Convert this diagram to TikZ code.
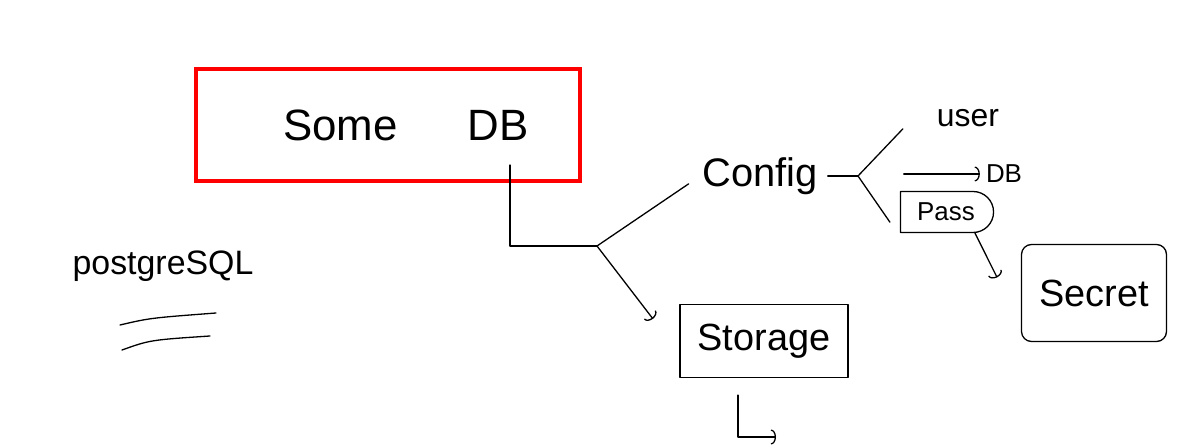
\documentclass[tikz,border=0pt]{standalone}
\usepackage{fontspec}
\setmainfont{Liberation Sans}
\usepackage{tikz}
\usetikzlibrary{calc}
\usetikzlibrary{arrows.meta,shapes.misc,positioning}
\tikzset{%Global config
	>={Arc Barb[length=5bp,width=15bp,sep=4bp]},
	color = black ,
	%Styles
	Sketch/.style={
		line width=1.3bp,
		line cap=round,
		line join=round,
	},
	RedBox/.style={
		draw=red,
		line width=4bp,
		minimum width=384bp,
		minimum height=112bp,
		font=\fontsize{44}{48}\selectfont,
	},
	Box/.style={
		draw,
		line width=1.3bp,
		line join=round,
		inner sep=0pt,
		%rounded corners,
	},
	PassBox/.style={
		Box,
		rounded rectangle,
		rounded rectangle left arc=none,
		minimum width=93bp,
		minimum height=41bp,
		font=\fontsize{26}{28}\selectfont,
	},
	Label/.style={
		inner sep=2bp,
	}
}

\begin{document}
\begin{tikzpicture}[x=1bp,y=-1bp]
	\useasboundingbox (0,0) rectangle (1192,447);
	% Boxes and labels
	\node[RedBox] (SomeDB) at (388,125) {\hspace{36bp}Some\hspace{1.6em}DB};
	\node[Label,font=\fontsize{34}{36}\selectfont] (Postgres) at (163,266) {postgreSQL};
	\node[Label,font=\fontsize{40}{42}\selectfont] (Config) at (760,176) {Config};
	\node[Label,font=\fontsize{32}{34}\selectfont] (User) at (968,118) {user};
	\node[Label,font=\fontsize{26}{28}\selectfont] (DBNote) at (1004,174) {DB};
	\node[PassBox] (Pass) at (946,212) {Pass};
	\node[Box,rounded corners=10bp,minimum width=145bp,minimum height=97bp,
		font=\fontsize{38}{40}\selectfont] (Secret) at (1094,293) {Secret};
	\node[Box,minimum width=168bp,minimum height=73bp,
		font=\fontsize{38}{40}\selectfont] (Storage) at (764,341) {Storage};
	
	% Connectors
	\coordinate (Fork) at (597,246);
	\coordinate (ConfigFork) at (858,176);
	\coordinate (StorageEnd) at (780,437);
	\draw[Sketch] ([xshift=122bp,yshift=18bp]SomeDB.south) |- (Fork);
	\draw[Sketch,shorten >=14bp] (Fork) -- (Config.west);
	\draw[Sketch,->] (Fork) -- ([xshift=-24bp,yshift=19bp]Storage.west);
	\draw[Sketch,shorten <=8bp] (Config.east) -- (ConfigFork);
	\draw[Sketch] (ConfigFork) -- ([xshift=-32bp]User.south west);
	\draw[Sketch] (ConfigFork) -- ([xshift=-10bp,yshift=11bp]Pass.south west);
	\draw[Sketch,->] ([xshift=-80bp]DBNote.west) -- (DBNote.west);
	\draw[Sketch,->] ([xshift=29bp]Pass.south) -- ([xshift=-22bp,yshift=12bp]Secret.west);
	\draw[Sketch,->] ([xshift=-26bp,yshift=-17bp]Storage.south) |- (StorageEnd);
	
	% Underlines
	\draw[Sketch] (120,325) .. controls (150,318) .. (216,313);
	\draw[Sketch] (122,350) .. controls (150,340) .. (210,336);
\end{tikzpicture}
\end{document}
